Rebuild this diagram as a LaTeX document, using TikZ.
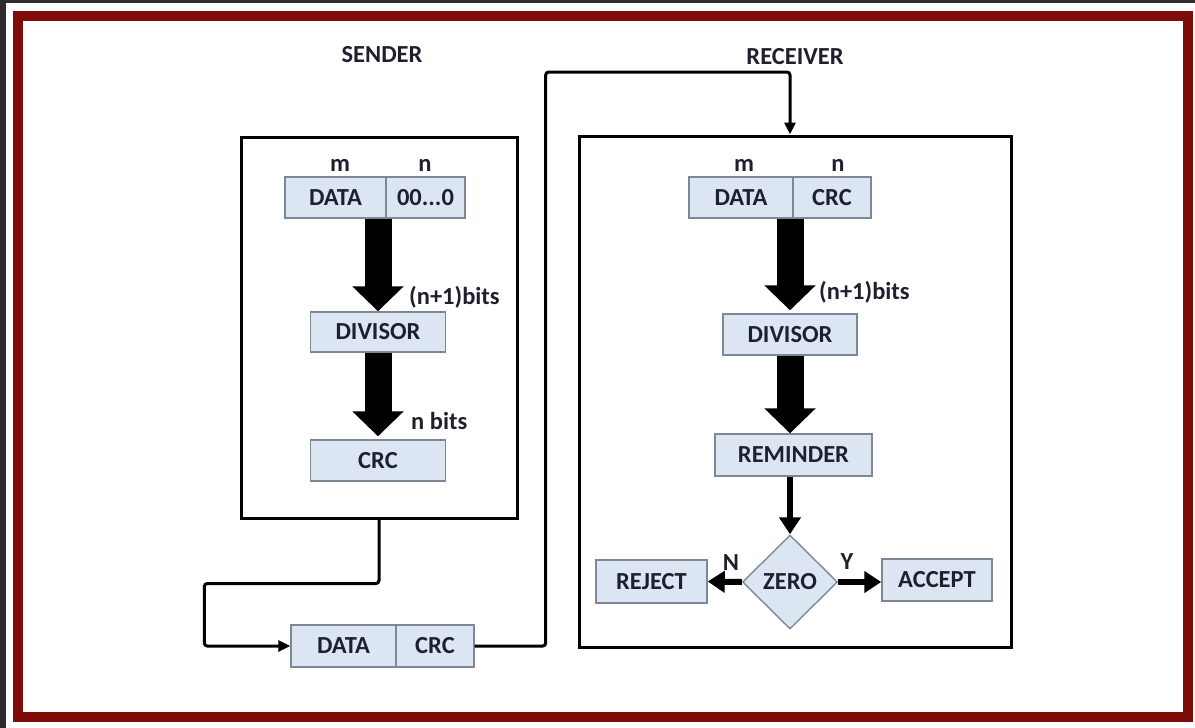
\documentclass[tikz,border=0pt]{standalone}
\usepackage{fontspec}
\setmainfont{Carlito}
\usetikzlibrary{shapes.geometric,arrows.meta,calc}
\definecolor{bgdark}{RGB}{45,45,45}
\definecolor{redframe}{RGB}{128,12,10}
\definecolor{cellblue}{RGB}{220,230,242}
\definecolor{cellline}{RGB}{125,135,150}
\definecolor{ink}{RGB}{30,33,45}
\tikzset{
  txt/.style={font=\fontsize{24.5}{26}\selectfont\bfseries, text=ink},
  cell/.style={txt, rectangle, fill=cellblue, draw=cellline, line width=1.4pt,
    minimum height=41pt, inner sep=0pt},
  frame/.style={rectangle, draw=black, line width=3pt, inner sep=0pt},
  lbl/.style={txt, inner sep=0pt},
  bigarrow/.style={line width=27pt, -{Triangle[length=25pt, width=50pt]}},
  midarrow/.style={line width=6pt, -{Triangle[length=17pt, width=21pt]}},
  linkarrow/.style={line width=3pt, rounded corners=3pt, -{Triangle[length=12pt, width=11pt]}},
}
\begin{document}
\begin{tikzpicture}[x=1pt, y=-1pt]
  % page, dark edges and the red border
  \fill[white] (0,0) rectangle (1195,728);
  \useasboundingbox (0,0) rectangle (1195,728);
  \fill[bgdark] (0,0) rectangle (1195,3);
  \fill[bgdark] (0,0) rectangle (6,728);
  \draw[redframe, line width=10pt] (17.5,16) rectangle (1188,717);

  % section titles
  \node[lbl] (tSend) at (382,55) {SENDER};
  \node[lbl] (tRecv) at (795,57) {RECEIVER};

  % sender frame
  \node[frame, minimum width=276pt, minimum height=381pt] (sFrame) at (379,327.5) {};
  \node[lbl] (sM) at (340,165) {m};
  \node[lbl] (sN) at (425,165) {n};
  \node[cell, minimum width=101pt] (sData) at (335.5,197.5) {DATA};
  \node[cell, minimum width=79pt] (sZero) at (425.5,197.5) {00...0};
  \node[cell, minimum width=135pt, minimum height=40pt] (sDiv) at (378,332) {DIVISOR};
  \node[cell, minimum width=135pt] (sCrc) at (378,460.5) {CRC};
  \draw[bigarrow] (sDiv.north |- sData.south) -- (sDiv.north);
  \draw[bigarrow] (sDiv.south) -- ($(sCrc.north)+(0,-3)$);
  \node[lbl, anchor=west] (sB1) at (409,297) {(n+1)bits};
  \node[lbl, anchor=west] (sB2) at (411,421) {n bits};

  % transmitted frame
  \node[cell, minimum width=105pt, minimum height=42pt] (bData) at (343.5,646) {DATA};
  \node[cell, minimum width=78pt, minimum height=42pt] (bCrc) at (435,646) {CRC};

  % receiver frame
  \node[frame, minimum width=432pt, minimum height=511pt] (rFrame) at (795,391.5) {};
  \node[lbl] (rM) at (744,165) {m};
  \node[lbl] (rN) at (838,165) {n};
  \node[cell, minimum width=104pt] (rData) at (741,197.5) {DATA};
  \node[cell, minimum width=78pt] (rCrc) at (832,197.5) {CRC};
  \node[cell, minimum width=134pt] (rDiv) at (790,334.5) {DIVISOR};
  \node[cell, minimum width=157pt, minimum height=42pt] (rRem) at (793.5,455) {REMINDER};
  \node[cell, diamond, minimum width=95pt, minimum height=94pt] (rZero) at (790,582) {ZERO};
  \node[cell, minimum width=111pt, minimum height=43pt] (rRej) at (651.5,581.5) {REJECT};
  \node[cell, minimum width=110pt, minimum height=42pt] (rAcc) at (937,580) {ACCEPT};
  \draw[bigarrow] (rDiv.north |- rData.south) -- ($(rDiv.north)+(0,-3)$);
  \draw[bigarrow] (rDiv.south) -- (rDiv.south |- rRem.north);
  \node[lbl, anchor=west] (rB1) at (819,292) {(n+1)bits};
  \draw[midarrow] (rZero.north |- rRem.south) -- (rZero.north);
  \draw[midarrow] (rZero.west) -- (rRej.east);
  \draw[midarrow] (rZero.east) -- (rAcc.west |- rZero.east);
  \node[lbl] (rNo) at (731,563) {N};
  \node[lbl] (rYes) at (847,562) {Y};

  % wiring between sender, channel and receiver
  \coordinate (rIn) at ($(rFrame.north)+(-5,0)$);
  \draw[linkarrow] (sFrame.south) -- ++(0,64) -| ($(bData.west)+(-86,0)$) -- (bData.west);
  \draw[linkarrow] (bCrc.east) -| ($(bCrc.east)+(71,-574)$) -| (rIn);
\end{tikzpicture}
\end{document}
